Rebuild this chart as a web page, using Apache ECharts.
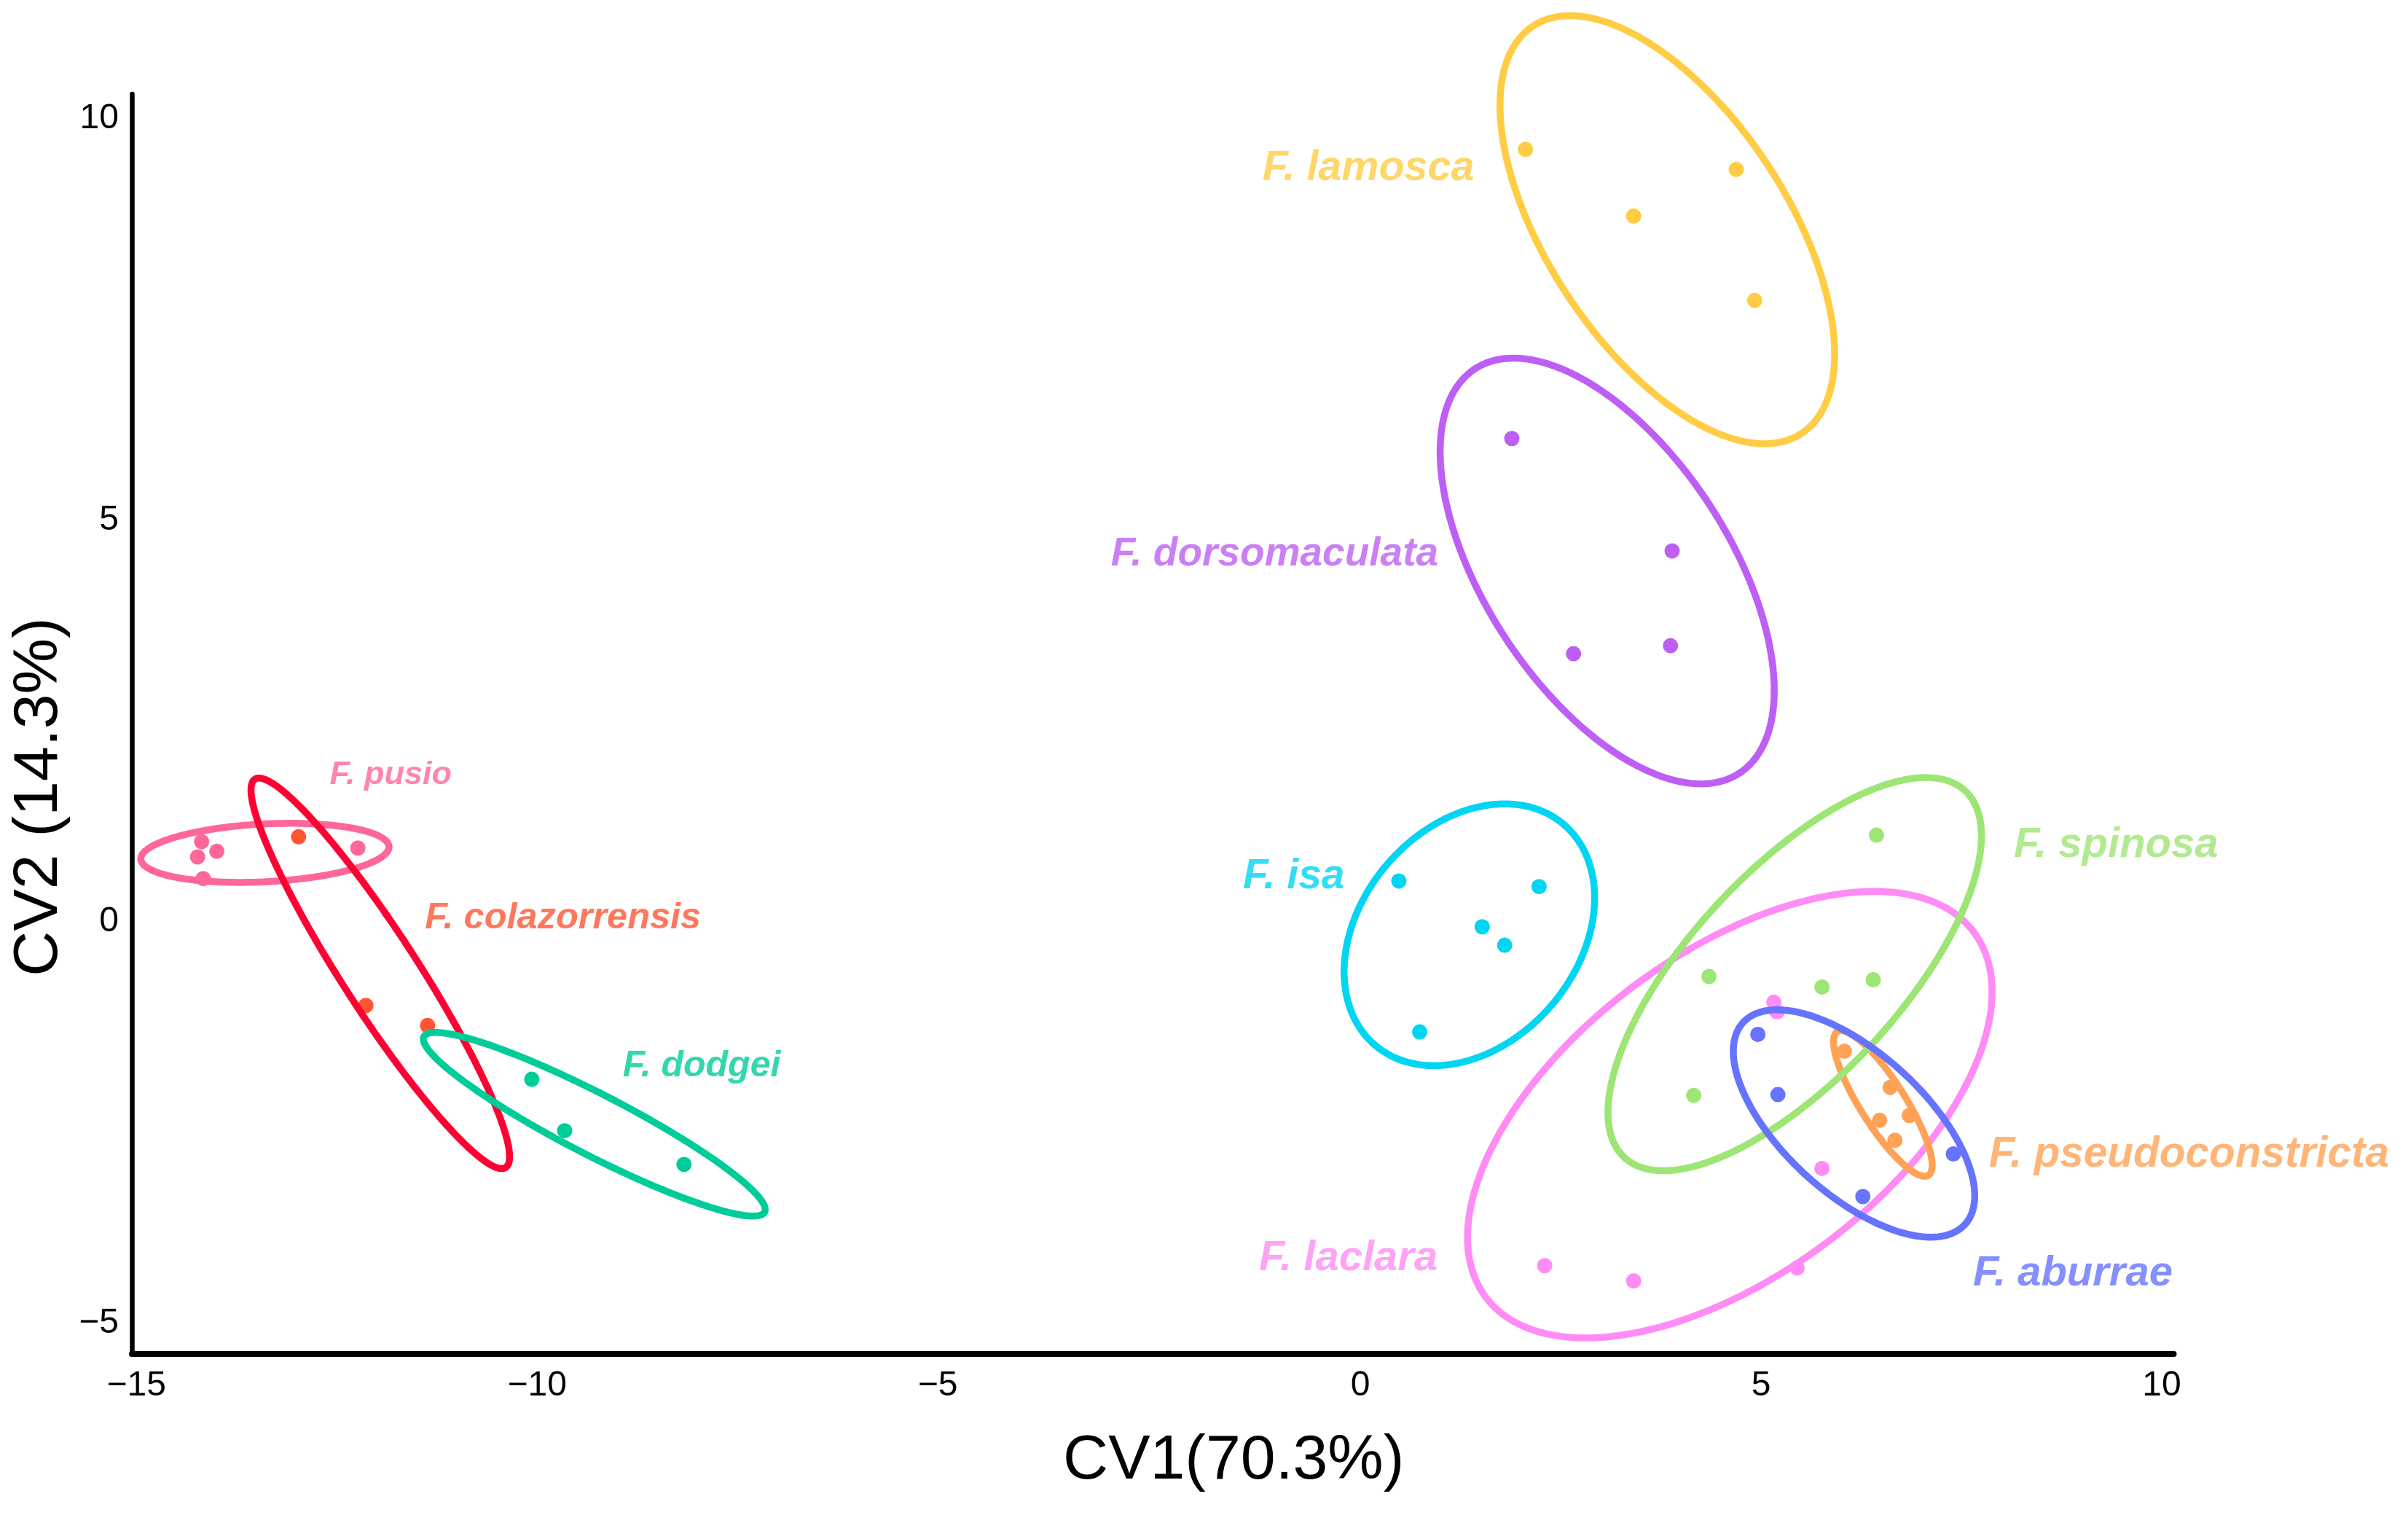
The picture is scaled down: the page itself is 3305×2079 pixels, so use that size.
<!DOCTYPE html>
<html><head><meta charset="utf-8">
<script src="https://cdn.jsdelivr.net/npm/echarts@6/dist/echarts.min.js"></script>
<style>html,body{margin:0;padding:0;background:#fff}#c{width:3305px;height:2079px}</style>
</head><body><div id="c"></div>
<script>
// ---- data ----
const species = ['F. lamosca','F. dorsomaculata','F. isa','F. spinosa','F. laclara','F. aburrae','F. pseudoconstricta','F. pusio','F. colazorrensis','F. dodgei'];
const lamoscaPts = [[2.06,9.62],[4.69,9.37],[3.41,8.79],[4.92,7.74]];
const dorsomaculataPts = [[1.89,6.02],[3.89,4.62],[2.66,3.34],[3.87,3.44]];
const isaPts = [[0.48,0.51],[2.23,0.44],[1.52,-0.06],[1.80,-0.29],[0.74,-1.37]];
const spinosaPts = [[6.44,1.08],[4.35,-0.68],[5.76,-0.81],[6.40,-0.72],[4.16,-2.16]];
const laclaraPts = [[5.16,-1.00],[5.20,-1.12],[5.76,-3.07],[2.30,-4.28],[3.41,-4.47],[5.45,-4.31]];
const aburraePts = [[4.96,-1.40],[5.21,-2.15],[7.40,-2.89],[6.27,-3.42]];
const pseudoconstrictaPts = [[6.04,-1.61],[6.61,-2.06],[6.85,-2.41],[6.48,-2.47],[6.67,-2.72]];
const pusioPts = [[-14.46,1.00],[-14.27,0.88],[-14.51,0.81],[-14.44,0.54],[-12.51,0.92]];
const colazorrensisPts = [[-13.25,1.06],[-12.41,-1.04],[-11.64,-1.29]];
const dodgeiPts = [[-10.34,-1.96],[-9.93,-2.60],[-8.44,-3.02]];
const groupPts = [lamoscaPts,dorsomaculataPts,isaPts,spinosaPts,laclaraPts,aburraePts,pseudoconstrictaPts,pusioPts,colazorrensisPts,dodgeiPts];

// ellipse parameters (centre, semi-axes, rotation in degrees), same order as species
const ellipseCx    = [3.83, 3.08, 1.36, 5.42, 4.61, 6.16, 6.52, -13.67, -12.23, -9.56];
const ellipseCy    = [8.62, 4.37, -0.16, -0.65, -2.40, -2.51, -2.26, 0.86, -0.64, -2.52];
const ellipseA     = [3.04, 3.01, 1.81, 3.12, 3.80, 1.87, 1.06, 1.55, 2.88, 2.39];
const ellipseB     = [1.49, 1.52, 1.35, 1.30, 2.00, 0.88, 0.28, 0.36, 0.47, 0.38];
const ellipseAngle = [-56.5, -56.7, 49.2, 47.0, 36.7, -42.2, -57.6, 2.9, -57.1, -27.2];

// label anchor positions (data units)
const labelX = [0.10, -1.07, -0.83, 9.43, -0.15, 8.89, 10.34, -12.10, -9.95, -8.22];
const labelY = [9.38, 4.58, 0.56, 0.95, -4.19, -4.38, -2.90, 1.83, 0.05, -1.80];

const xTicks = [-15,-10,-5,0,5,10];
const yTicks = [-5,0,5,10];

// ---- styles ----
const pointColors   = ['#FFCC44','#BD5FF5','#00D5F2','#9DE574','#FF8CF5','#6673FF','#FFA255','#FF6699','#FF5533','#00CC99'];
const ellipseColors = ['#FFCC44','#BD5FF5','#00D5F2','#9DE574','#FF8CF5','#6673FF','#FFA255','#FF6699','#FF0033','#00CC99'];
const labelSizes    = [57.5,55,57,58,58,58,58.5,45,50.5,50];
const ellipseDrawOrder = [4,6,3,5,2,0,1,7,8,9];
const FONT = '"Liberation Sans", Arial, Helvetica, sans-serif';

const fmt = v => String(v).replace('-', '\u2212');
const xFmt = v => v < 0 ? '{neg|' + fmt(v) + '}' : fmt(v);

const series = [];
groupPts.forEach((pts, i) => {
  series.push({
    type:'scatter', name: species[i], data: pts, symbol:'circle', symbolSize: 21,
    itemStyle:{color: pointColors[i], opacity: 1}, z: 2, clip: false, silent: true
  });
});
series.push({
  type:'custom', z: 3, clip: false, silent: true,
  encode:{x:0, y:1},
  data: ellipseDrawOrder.map(i => ({value:[ellipseCx[i], ellipseCy[i], ellipseA[i], ellipseB[i], ellipseAngle[i], i]})),
  renderItem: function(params, api){
    const cx = api.value(0), cy = api.value(1), a = api.value(2), b = api.value(3);
    const ang = api.value(4) * Math.PI / 180, gi = api.value(5);
    const pts = [];
    const n = 240;
    for (let k = 0; k < n; k++) {
      const t = k / n * 2 * Math.PI;
      const x = cx + a*Math.cos(t)*Math.cos(ang) - b*Math.sin(t)*Math.sin(ang);
      const y = cy + a*Math.cos(t)*Math.sin(ang) + b*Math.sin(t)*Math.cos(ang);
      pts.push(api.coord([x, y]));
    }
    return {type:'polygon', shape:{points: pts}, style:{fill:'none', stroke: ellipseColors[gi], lineWidth: 9.5}};
  }
});
series.push({
  type:'scatter', z: 4, clip: false, silent: true, symbolSize: 0,
  data: species.map((s, i) => ({
    name: s, value:[labelX[i], labelY[i]],
    label:{color: pointColors[i], fontSize: labelSizes[i]}
  })),
  label:{show:true, position:'inside', formatter:'{b}', fontStyle:'italic', fontWeight:'bold', fontFamily: FONT}
});

const chart = echarts.init(document.getElementById('c'), null, {renderer:'canvas'});
chart.setOption({
  animation: false,
  backgroundColor: '#ffffff',
  grid: {left: 181, right: 321.5, top: 129, bottom: 221, containLabel: false},
  xAxis: {
    type:'value', min: -15.33, max: 10.15,
    name: 'CV1(70.3%)', nameLocation:'middle', nameGap: 104,
    nameTextStyle: {fontSize: 86, color:'#000', fontFamily: FONT, padding:[0,0,0,222]},
    axisLine: {show:true, onZero:false, lineStyle:{color:'#000', width: 8}},
    axisTick: {show:false},
    splitLine: {show:false},
    axisLabel: {customValues: xTicks, formatter: xFmt, fontSize: 48, color:'#000', fontFamily: FONT, margin: 20,
      rich: {neg: {fontSize: 48, color:'#000', fontFamily: FONT, padding:[0,60,0,0]}}}
  },
  yAxis: {
    type:'value', min: -5.38, max: 10.31,
    name: 'CV2 (14.3%)', nameLocation:'middle', nameGap: 56, nameRotate: 90,
    nameTextStyle: {fontSize: 86, color:'#000', fontFamily: FONT, padding:[0,200,0,0]},
    axisLine: {show:true, onZero:false, lineStyle:{color:'#000', width: 6.5}},
    axisTick: {show:false},
    splitLine: {show:false},
    axisLabel: {customValues: yTicks, formatter: fmt, fontSize: 48, color:'#000', fontFamily: FONT, margin: 18}
  },
  series: series
});
</script></body></html>
